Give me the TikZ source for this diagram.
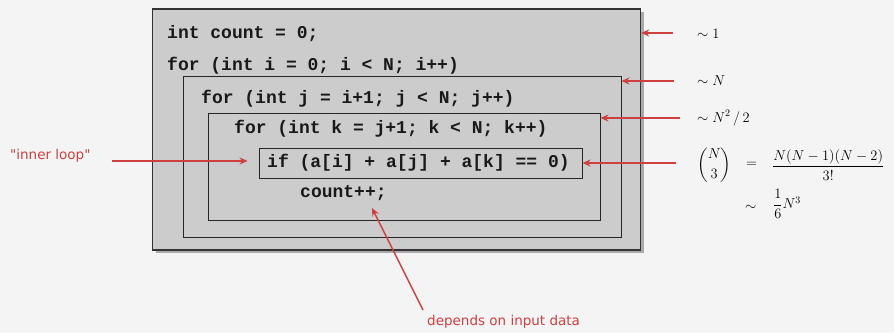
\documentclass[tikz,border=0pt]{standalone}
\usepackage{amsmath}
\usepackage{fontspec}
\newfontfamily\codefont{Liberation Mono}
\newfontfamily\notefont{DejaVu Sans}
\usetikzlibrary{arrows.meta,shadows}
\definecolor{bg}{HTML}{F4F4F4}
\definecolor{boxfill}{HTML}{CCCCCC}
\definecolor{anno}{RGB}{204,64,64}
\tikzset{
  outerbox/.style={draw={rgb,255:red,51;green,51;blue,51}, line width=1.3pt, fill=boxfill, inner sep=0pt,
    drop shadow={shadow xshift=3pt, shadow yshift=-3pt, fill=black, opacity=0.3}},
  loopbox/.style={draw=black!85, line width=0.9pt, fill=boxfill, inner sep=0pt},
  code/.style={font=\codefont\bfseries\fontsize{18}{20}\selectfont, anchor=west, inner sep=0pt, text=black!90},
  annoarrow/.style={draw=anno, line width=1.4pt, -{Stealth[length=8pt,width=7pt]}},
  annotext/.style={font=\notefont\fontsize{13.5}{15}\selectfont, text=anno, inner sep=0pt},
  mathlab/.style={font=\fontsize{14.5}{17}\selectfont, inner sep=0pt, anchor=west},
}
\begin{document}
\begin{tikzpicture}[x=1pt,y=-1pt]
\fill[bg] (0,0) rectangle (894,333);
\useasboundingbox (0,0) rectangle (894,333);
% boxes
\node[outerbox, minimum width=488, minimum height=241] (outer) at (396.5,129.5) {};
\node[loopbox, minimum width=438, minimum height=161] (jbox) at (402,156.5) {};
\node[loopbox, minimum width=392, minimum height=107] (kbox) at (404,166.5) {};
\node[loopbox, minimum width=323, minimum height=30] (ifbox) at (420.5,163) {};
% code
\node[code] (c1) at (167,34) {int count = 0;};
\node[code] (c2) at (167,66) {for (int i = 0; i < N; i++)};
\node[code] (c3) at (201,99) {for (int j = i+1; j < N; j++)};
\node[code] (c4) at (234,129) {for (int k = j+1; k < N; k++)};
\node[code] (c5) at (267,163) {if (a[i] + a[j] + a[k] == 0)};
\node[code] (c6) at (300,193) {count++;};
% math labels
\node[mathlab] (m1) at (697,34) {$\sim 1$};
\node[mathlab] (m2) at (697,81) {$\sim N$};
\node[mathlab] (m3) at (697,118) {$\sim N^{2}\,/\,2$};
\node[mathlab] (m4) at (697,165) {$\displaystyle\binom{N}{3}$};
\node[mathlab] (m5) at (746,165) {$=$};
\node[mathlab] (m6) at (772,165) {$\dfrac{N(N-1)(N-2)}{3!}$};
\node[mathlab] (m7) at (745,208) {$\sim$};
\node[mathlab] (m8) at (773,204) {$\dfrac{1}{6}N^{3}$};
% arrows to the right labels
\coordinate (s1) at (673,33);
\coordinate (s2) at (674,81);
\coordinate (s3) at (680,118);
\coordinate (s4) at (676,163);
\draw[annoarrow] (s1) -- (outer.east |- s1);
\draw[annoarrow] (s2) -- (jbox.east |- s2);
\draw[annoarrow] (s3) -- (kbox.east |- s3);
\draw[annoarrow] (s4) -- (ifbox.east |- s4);
% left note
\node[annotext, anchor=west] (inner) at (10,156) {"inner loop"};
\coordinate (innerstart) at (112,161);
\draw[annoarrow] (innerstart) -- ([xshift=-11pt]ifbox.west |- innerstart);
% bottom note
\node[annotext, anchor=west] (dep) at (427,322) {depends on input data};
\coordinate (depstart) at (423,310);
\coordinate (depend) at (372,208);
\draw[annoarrow] (depstart) -- (depend);
\end{tikzpicture}
\end{document}
